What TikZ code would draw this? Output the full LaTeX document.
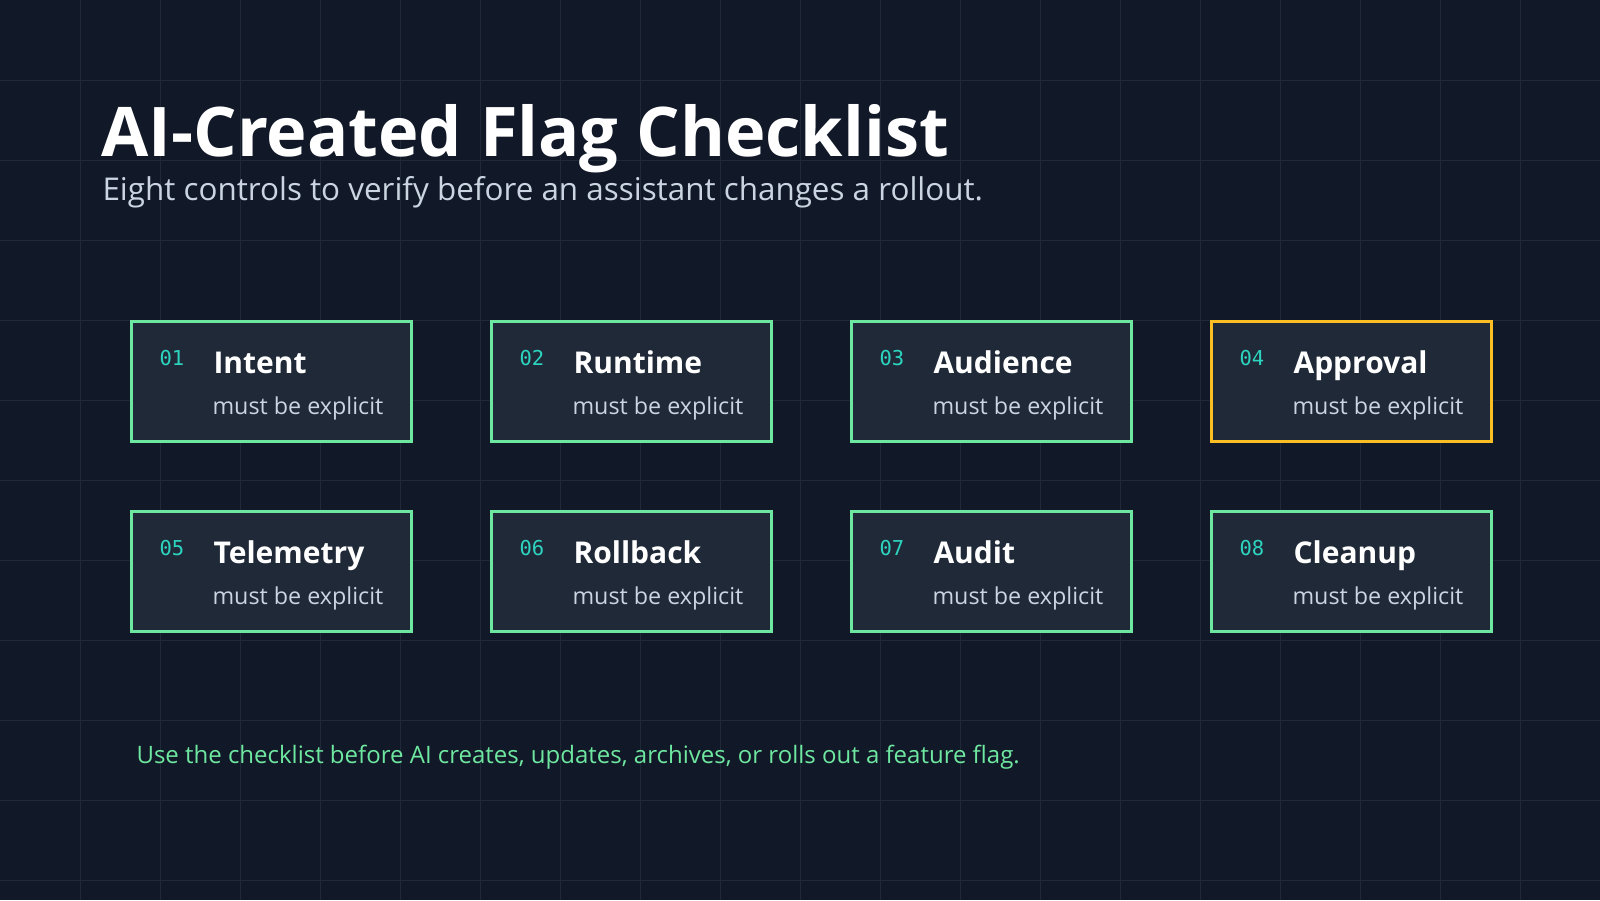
\documentclass[tikz,border=0pt]{standalone}
\usepackage{fontspec}
\setmainfont{Open Sans}
\newfontfamily\monofam{DejaVu Sans Mono}
\definecolor{bgcol}{HTML}{111827}
\definecolor{gridcol}{HTML}{1F2937}
\definecolor{cardcol}{HTML}{1F2937}
\definecolor{okcol}{HTML}{6EE7A0}
\definecolor{warncol}{HTML}{FBBF24}
\definecolor{numcol}{HTML}{2DD4BF}
\definecolor{subcol}{HTML}{CBD5E1}
\tikzset{
  card/.style={draw=okcol, line width=3pt, fill=cardcol, minimum width=280pt, minimum height=120pt, anchor=north west, inner sep=0pt},
  num/.style={anchor=base west, text=numcol, font=\monofam\fontsize{20.5}{20}\selectfont},
  head/.style={anchor=base west, text=white, font=\bfseries\fontsize{30}{30}\selectfont},
  note/.style={anchor=base west, text=subcol, font=\fontsize{23.3}{23}\selectfont}
}
\begin{document}
\begin{tikzpicture}[x=1pt, y=-1pt]
        \fill[bgcol] (0, 0) rectangle (1600, 900);
        \useasboundingbox (0, 0) rectangle (1600, 900);
        \foreach \g in {80, 160, ..., 1560}
            {\draw [gridcol, line width=0.8pt] (\g, 0) -- (\g, 900);}
        \foreach \g in {80, 160, ..., 880}
            {\draw [gridcol, line width=0.8pt] (0, \g) -- (1600, \g);}

        \node (title) at (98, 156) [anchor=base west, text=white, font=\bfseries\fontsize{68.5}{68}\selectfont] {AI-Created Flag Checklist};
        \node (subtitle) at (99, 200) [anchor=base west, text=subcol, font=\fontsize{31.4}{31}\selectfont] {Eight controls to verify before an assistant changes a rollout.};

        \foreach \n/\x/\y/\name/\c in {01/130/320/Intent/okcol, 02/490/320/Runtime/okcol, 03/850/320/Audience/okcol, 04/1210/320/Approval/warncol,
                                       05/130/510/Telemetry/okcol, 06/490/510/Rollback/okcol, 07/850/510/Audit/okcol, 08/1210/510/Cleanup/okcol}
            {
            \node (card\n) at (\x, \y) [card, draw=\c] {};
            \node (num\n) at ([xshift=26pt, yshift=-45pt] card\n.north west) [num] {\n};
            \node (head\n) at ([xshift=80pt, yshift=-53pt] card\n.north west) [head] {\name};
            \node (note\n) at ([xshift=79pt, yshift=-94pt] card\n.north west) [note] {must be explicit};
            }

        \node (footer) at (133, 763) [anchor=base west, text=okcol, font=\fontsize{24}{24}\selectfont] {Use the checklist before AI creates, updates, archives, or rolls out a feature flag.};
\end{tikzpicture}
\end{document}
